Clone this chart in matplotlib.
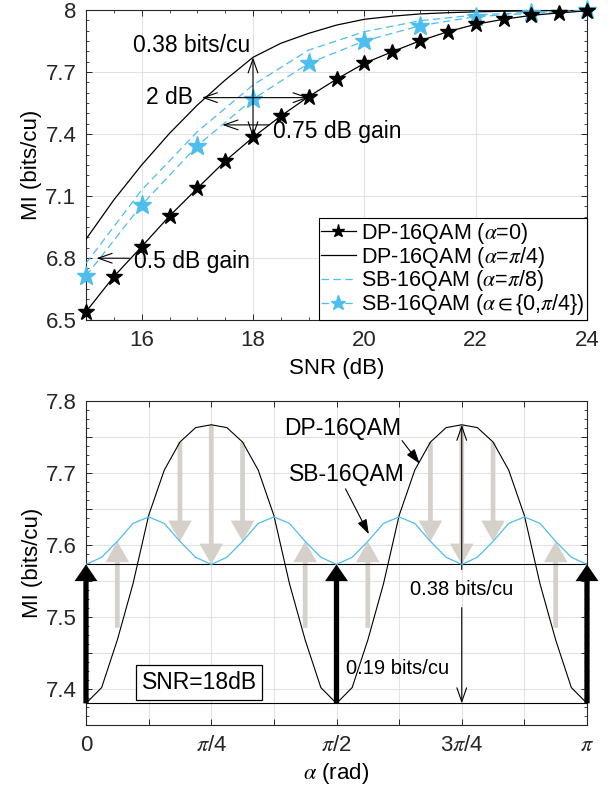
import numpy as np
import matplotlib
matplotlib.use('Agg')
import matplotlib.pyplot as plt
from matplotlib.patches import FancyArrowPatch
from matplotlib.ticker import MultipleLocator

plt.rcParams['font.family'] = ['Liberation Sans', 'DejaVu Sans']
plt.rcParams['mathtext.fontset'] = 'stix'
plt.rcParams['axes.edgecolor'] = '#262626'
plt.rcParams['xtick.color'] = '#262626'
plt.rcParams['ytick.color'] = '#262626'

# ---- top panel: MI vs SNR ----
snr_fine = [15, 15.5, 16, 16.5, 17, 17.5, 18, 18.5, 19, 19.5,
            20, 20.5, 21, 21.5, 22, 22.5, 23, 23.5, 24]
mi_dp_a0 = [6.540, 6.710, 6.855, 7.003, 7.137, 7.269, 7.384, 7.487, 7.581, 7.665,
            7.742, 7.798, 7.851, 7.895, 7.931, 7.955, 7.974, 7.986, 7.996]
mi_dp_api4 = [6.891, 7.081, 7.250, 7.403, 7.540, 7.661, 7.771, 7.839, 7.887, 7.927,
              7.955, 7.970, 7.981, 7.987, 7.991, 7.994, 7.996, 7.998, 7.999]
snr_coarse = [15, 16, 17, 18, 19, 20, 21, 22, 23, 24]
mi_sb_api8 = [6.774, 7.129, 7.411, 7.637, 7.806, 7.895, 7.948, 7.976, 7.989, 7.998]
mi_sb_a0pi4 = [6.713, 7.057, 7.343, 7.569, 7.742, 7.850, 7.924, 7.968, 7.984, 7.998]

legend_labels = [r'DP-16QAM ($\alpha$=0)', r'DP-16QAM ($\alpha$=$\pi$/4)',
                 r'SB-16QAM ($\alpha$=$\pi$/8)', r'SB-16QAM ($\alpha\in${0,$\pi$/4})']

# ---- bottom panel: MI vs alpha, SNR = 18 dB (samples every pi/32) ----
alpha = np.linspace(0, np.pi, 33)
mi_dp_alpha = [7.380, 7.402, 7.468, 7.546, 7.641, 7.704, 7.743, 7.763, 7.767,
               7.763, 7.743, 7.704, 7.641, 7.546, 7.468, 7.402, 7.380,
               7.402, 7.468, 7.546, 7.641, 7.704, 7.743, 7.763, 7.767,
               7.763, 7.743, 7.704, 7.641, 7.546, 7.468, 7.402, 7.380]
mi_sb_alpha = [7.573, 7.583, 7.605, 7.630, 7.639, 7.630, 7.605, 7.583,
               7.573, 7.583, 7.605, 7.630, 7.639, 7.630, 7.605, 7.583,
               7.573, 7.583, 7.605, 7.630, 7.639, 7.630, 7.605, 7.583,
               7.573, 7.583, 7.605, 7.630, 7.639, 7.630, 7.605, 7.583, 7.573]
down_idx = [6, 8, 10, 22, 24, 26]   # grey arrows DP -> SB
up_idx = [2, 14, 18, 30]            # grey arrows up to SB
up_start = 7.485
black_idx = [0, 16, 32]

blue = '#4DBEEE'
grey = '#d5d1ca'
gridc = '#e2e2e2'

fig = plt.figure(figsize=(6.11, 7.94), dpi=100)
ax1 = fig.add_axes([86/611, 1-320/794, 501/611, 310/794])
ax2 = fig.add_axes([86/611, 1-725/794, 501/611, 324/794])

FS = 16

# top
ax1.plot(snr_fine, mi_dp_a0, '-k', marker='*', ms=12, lw=0.9, label=legend_labels[0],
         zorder=4, clip_on=False)
ax1.plot(snr_fine, mi_dp_api4, '-k', lw=0.9, label=legend_labels[1], zorder=3)
ax1.plot(snr_coarse, mi_sb_api8, color=blue, ls=(0, (6, 3.5)), lw=0.9, label=legend_labels[2], zorder=3)
ax1.plot(snr_coarse, mi_sb_a0pi4, color=blue, ls=(0, (6, 3.5)), lw=0.9, marker='*', ms=14,
         label=legend_labels[3], zorder=3, clip_on=False)
ax1.set_xlim(15, 24)
ax1.set_ylim(6.5, 8)
ax1.set_xticks([16, 18, 20, 22, 24])
ax1.set_yticks([6.5, 6.8, 7.1, 7.4, 7.7, 8])
ax1.set_yticklabels(['6.5', '6.8', '7.1', '7.4', '7.7', '8'])
ax1.xaxis.set_minor_locator(MultipleLocator(0.5))
ax1.yaxis.set_minor_locator(MultipleLocator(0.05))
ax1.grid(True, color=gridc, lw=0.8, zorder=0)
ax1.set_xlabel('SNR (dB)', fontsize=FS, labelpad=5)
ax1.set_ylabel('MI (bits/cu)', fontsize=FS, labelpad=2)
leg = ax1.legend(loc='lower right', fontsize=15.5, frameon=True, fancybox=False,
                 edgecolor='k', framealpha=1, borderaxespad=0, handlelength=1.6,
                 labelspacing=-0.05, borderpad=0.12, handletextpad=0.25, markerscale=0.8)
leg.get_frame().set_linewidth(0.8)
leg.set_zorder(6)

thin = dict(arrowstyle='->,head_length=1.0,head_width=0.35', mutation_scale=10,
            lw=0.8, color='k', shrinkA=0, shrinkB=0)
thin2 = dict(thin, arrowstyle='<->,head_length=1.0,head_width=0.35')
i18 = snr_fine.index(18)
ax1.annotate('', xy=(18, mi_dp_api4[i18]), xytext=(18, mi_dp_a0[i18]), arrowprops=thin2)
ax1.text(17.95, 7.83, '0.38 bits/cu', fontsize=16.5, ha='right', va='center')
ax1.annotate('', xy=(17.08, 7.576), xytext=(19.0, 7.576), arrowprops=thin2)
ax1.text(16.93, 7.578, '2 dB', fontsize=16.5, ha='right', va='center')
ax1.annotate('', xy=(17.45, 7.444), xytext=(18.29, 7.444), arrowprops=thin)
ax1.text(18.36, 7.41, '0.75 dB gain', fontsize=16.5, ha='left', va='center')
ax1.annotate('', xy=(15.19, 6.799), xytext=(15.78, 6.799), arrowprops=thin)
ax1.text(15.86, 6.783, '0.5 dB gain', fontsize=16.5, ha='left', va='center')

# bottom
ax2.plot(alpha, mi_dp_alpha, '-k', lw=0.8, zorder=4)
ax2.plot(alpha, mi_sb_alpha, color=blue, lw=0.9, zorder=4)
ax2.axhline(mi_sb_alpha[0], color='k', lw=0.8, zorder=3)
ax2.axhline(min(mi_dp_alpha), color='k', lw=0.8, zorder=3)

grey_style = 'simple,head_length=1.5,head_width=1.7,tail_width=0.34'
for k in down_idx:
    ax2.add_patch(FancyArrowPatch((alpha[k], mi_dp_alpha[k]), (alpha[k], mi_sb_alpha[k]),
                                  arrowstyle=grey_style, mutation_scale=10, color=grey,
                                  lw=0, shrinkA=0, shrinkB=0, zorder=2))
for k in up_idx:
    ax2.add_patch(FancyArrowPatch((alpha[k], up_start), (alpha[k], mi_sb_alpha[k]),
                                  arrowstyle=grey_style, mutation_scale=10, color=grey,
                                  lw=0, shrinkA=0, shrinkB=0, zorder=2))
for k in black_idx:
    ax2.add_patch(FancyArrowPatch((alpha[k], mi_dp_alpha[k]), (alpha[k], mi_sb_alpha[k]),
                                  arrowstyle='simple,head_length=1.2,head_width=1.65,tail_width=0.38',
                                  mutation_scale=10, color='k', lw=0, shrinkA=0, shrinkB=0,
                                  zorder=5, clip_on=False))

# 0.38 bits/cu double arrow at 3pi/4 (broken around label)
k = 24
ax2.annotate('', xy=(alpha[k], mi_dp_alpha[k]), xytext=(alpha[k], 7.566), arrowprops=thin)
ax2.annotate('', xy=(alpha[k], min(mi_dp_alpha)), xytext=(alpha[k], 7.513), arrowprops=thin)
ax2.text(alpha[k], 7.538, '0.38 bits/cu', fontsize=14.5, ha='center', va='center')
ax2.text(0.6226*np.pi, 7.429, '0.19 bits/cu', fontsize=14.5, ha='center', va='center')

filled = dict(arrowstyle='-|>,head_length=0.9,head_width=0.3', mutation_scale=10,
              lw=0.8, color='k', shrinkA=0, shrinkB=0)
ax2.text(0.5114*np.pi, 7.762, 'DP-16QAM', fontsize=16.5, ha='center', va='center')
ax2.annotate('', xy=(0.666*np.pi, 7.713), xytext=(0.6308*np.pi, 7.745), arrowprops=filled)
ax2.text(0.5214*np.pi, 7.698, 'SB-16QAM', fontsize=16.5, ha='center', va='center')
ax2.annotate('', xy=(0.5646*np.pi, 7.615), xytext=(0.518*np.pi, 7.678), arrowprops=filled)

ax2.text(0.2258*np.pi, 7.409, 'SNR=18dB', fontsize=16.5, ha='center', va='center', zorder=6,
         bbox=dict(boxstyle='square,pad=0.25', fc='white', ec='k', lw=0.9))

ax2.set_xlim(0, np.pi)
ax2.set_ylim(7.35, 7.8)
ax2.set_xticks(np.arange(9) * np.pi / 8)
ax2.set_xticklabels(['0', '', r'$\pi$/4', '', r'$\pi$/2', '', r'3$\pi$/4', '', r'$\pi$'])
yt = [7.35, 7.4, 7.45, 7.5, 7.55, 7.6, 7.65, 7.7, 7.75, 7.8]
ax2.set_yticks(yt)
ax2.set_yticklabels(['', '7.4', '', '7.5', '', '7.6', '', '7.7', '', '7.8'])
ax2.yaxis.set_minor_locator(MultipleLocator(0.0125))
ax2.grid(True, color=gridc, lw=0.8, zorder=0)
ax2.set_xlabel(r'$\alpha$ (rad)', fontsize=FS, labelpad=4)
ax2.set_ylabel('MI (bits/cu)', fontsize=FS, labelpad=2)

for ax in (ax1, ax2):
    ax.set_axisbelow(True)
    ax.tick_params(which='both', direction='in', top=True, right=True, labelsize=FS)
    ax.tick_params(which='major', length=4, width=0.7, pad=7)
    ax.tick_params(which='minor', length=2.5, width=0.6)
    for s in ax.spines.values():
        s.set_linewidth(0.8)

fig.savefig('out.png', dpi=100)
